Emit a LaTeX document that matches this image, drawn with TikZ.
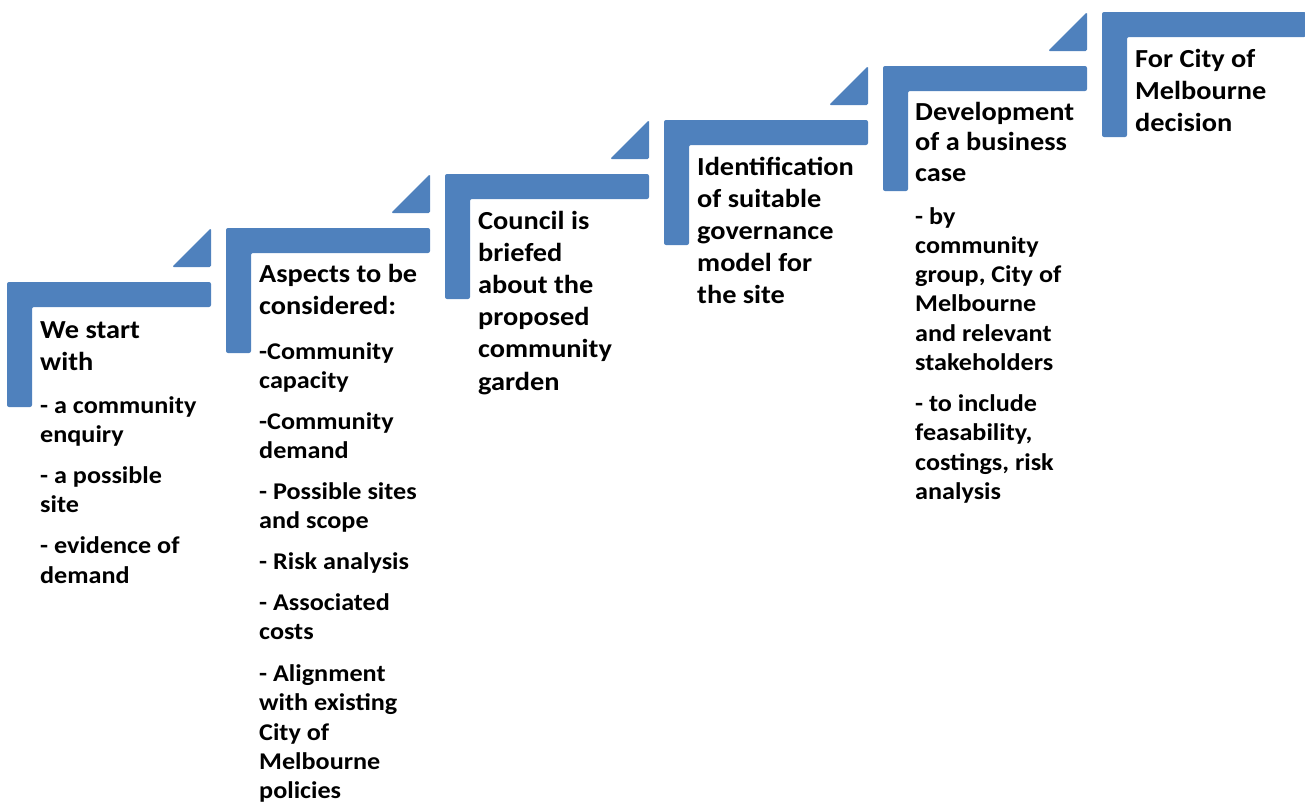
\documentclass[tikz,border=0pt]{standalone}
\usepackage{fontspec}
\setmainfont{Carlito}[FakeStretch=1.09]
\definecolor{stepblue}{HTML}{4F81BD}
\tikzset{
  stepshape/.style={fill=stepblue, draw=none, rounded corners=2pt},
  steptext/.style={anchor=base west, inner sep=0pt, text=black, font=\bfseries}
}
\newcommand\ttlsz{\fontsize{26}{32.2}\selectfont}
\newcommand\bodysz{\fontsize{24}{29.3}\selectfont}
\newcommand\stepblock[1]{\parbox[t]{300pt}{\raggedright\parindent=0pt\parskip=0pt #1}}
\begin{document}
\begin{tikzpicture}[x=1pt,y=-1pt]
\useasboundingbox (0,0) rectangle (1305,803);
\foreach \i in {0,...,5}{
  \pgfmathsetmacro\L{7+219*\i}
  \pgfmathsetmacro\T{282-54*\i}
  \fill[stepshape] (\L,\T) -- (\L+204,\T) -- (\L+204,\T+25) -- (\L+25,\T+25)
     -- (\L+25,\T+125) -- (\L,\T+125) -- cycle;
}
\foreach \i in {0,...,4}{
  \pgfmathsetmacro\L{7+219*\i}
  \pgfmathsetmacro\T{282-54*\i}
  \fill[stepshape, rounded corners=1.5pt] (\L+165,\T-15) -- (\L+204,\T-15) -- (\L+204,\T-54) -- cycle;
}
% step 1
\node[steptext] (t1) at (40,338) {\stepblock{\ttlsz We start\\with\par
  \vspace{13.7pt}\bodysz - a community\\enquiry\par
  \vspace{11.7pt}- a possible\\site\par
  \vspace{11.7pt}- evidence of\\demand\par}};
% step 2
\node[steptext] (t2) at (259,282) {\stepblock{\ttlsz Aspects to be\\considered:\par
  \vspace{15.7pt}\bodysz -Community\\capacity\par
  \vspace{11.2pt}-Community\\demand\par
  \vspace{11.7pt}- Possible sites\\and scope\par
  \vspace{11.7pt}- Risk analysis\par
  \vspace{11.7pt}- Associated\\costs\par
  \vspace{12.2pt}- Alignment\\with existing\\City of\\Melbourne\\policies\par}};
% step 3
\node[steptext] (t3) at (478,229) {\stepblock{\ttlsz Council is\\briefed\\about the\\proposed\\community\\garden\par}};
% step 4
\node[steptext] (t4) at (697,175) {\stepblock{\ttlsz Identification\\of suitable\\governance\\model for\\the site\par}};
% step 5
\node[steptext] (t5) at (915,120) {\stepblock{\fontsize{26}{30.5}\selectfont Development\\of a business\\case\par
  \vspace{13.7pt}\bodysz - by\\community\\group, City of\\Melbourne\\and relevant\\stakeholders\par
  \vspace{11.7pt}- to include\\feasability,\\costings, risk\\analysis\par}};
% step 6
\node[steptext] (t6) at (1135,67) {\stepblock{\ttlsz For City of\\Melbourne\\decision\par}};
\end{tikzpicture}
\end{document}
